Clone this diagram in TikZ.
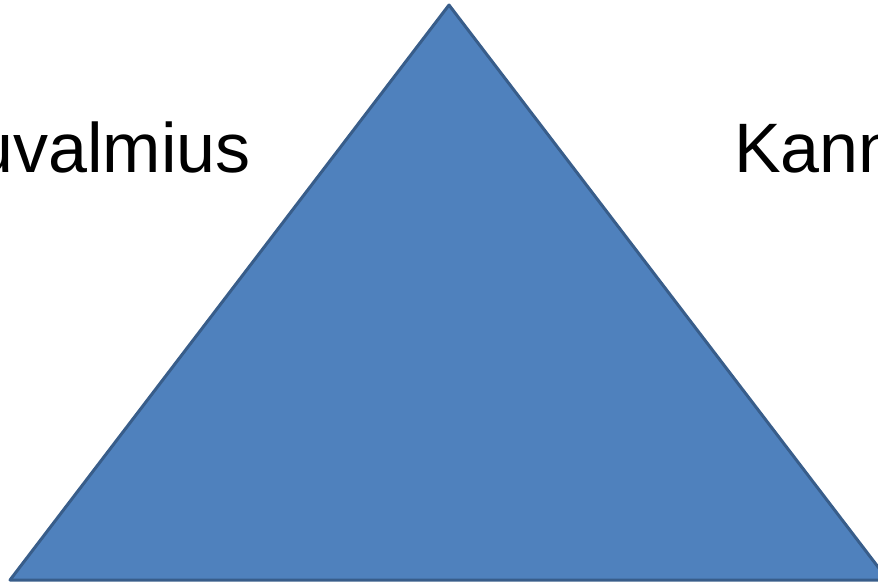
\documentclass[tikz,border=0pt]{standalone}
\usepackage{fontspec}
\setmainfont{Liberation Sans}
\usetikzlibrary{positioning}
\definecolor{TriFill}{HTML}{4F81BD}
\definecolor{TriEdge}{HTML}{385D8A}

\begin{document}
\begin{tikzpicture}[x=1pt,y=-1pt]
  \useasboundingbox (0,0) rectangle (878,584);
  \clip (0,0) rectangle (878,584);
  \coordinate (apex) at (449,5);
  \coordinate (baseL) at (10,580);
  \coordinate (baseR) at (888,580);
  \draw[TriEdge,fill=TriFill,line width=3pt,line join=round] (apex) -- (baseL) -- (baseR) -- cycle;
  \node[anchor=base east,inner sep=0pt,font=\fontsize{70}{84}\selectfont] (left) at (251,172) {uvalmius};
  \node[anchor=base west,inner sep=0pt,font=\fontsize{70}{84}\selectfont] (right) at (734,172) {Kann};
\end{tikzpicture}
\end{document}
